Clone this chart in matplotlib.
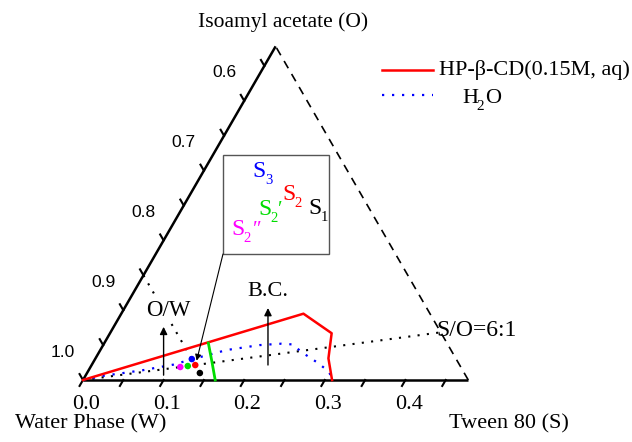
import matplotlib
matplotlib.use("Agg")
import matplotlib.pyplot as plt
from matplotlib.patches import Rectangle
import numpy as np

SERIF = 'Liberation Serif'
SANS = 'Liberation Sans'
R3 = np.sqrt(3) / 2

# side of the (partial) ternary triangle, in mass fraction
side = 0.478

# HP-beta-CD (0.15 M, aq) phase boundary: Tween 80 (S) and isoamyl acetate (O) fractions
hp_S = [0.0, 0.226, 0.275, 0.289, 0.309]
hp_O = [0.0, 0.095, 0.067, 0.031, 0.0]

# water phase boundary
h2o_S = [0.0, 0.022, 0.045, 0.067, 0.101, 0.121, 0.157, 0.194, 0.220, 0.234, 0.253, 0.280, 0.299, 0.310]
h2o_O = [0.0, 0.006, 0.010, 0.014, 0.022, 0.030, 0.043, 0.050, 0.052, 0.051, 0.039, 0.024, 0.012, 0.0]

# green boundary line
grn_S = [0.129, 0.147, 0.164]
grn_O = [0.053, 0.026, 0.0]

# formulation points S1, S2, S2', S2'', S3
pt_names = ['S1', 'S2', "S2'", "S2''", 'S3']
pt_S = [0.14, 0.1286, 0.12, 0.1114, 0.12]
pt_O = [0.01, 0.0214, 0.02, 0.0186, 0.03]
pt_colors = ['black', 'red', '#00dd00', '#ff00ff', 'blue']

# S/O = 6:1 dilution line and O/W line (W = 0.85)
so_ratio = 6.0
ow_S = [0.0, 0.14]
ow_O = [0.15, 0.01]

bottom_ticks = [0.0, 0.1, 0.2, 0.3, 0.4]
left_ticks = [1.0, 0.9, 0.8, 0.7, 0.6]


def tern(S, O):
    S = np.asarray(S, dtype=float)
    O = np.asarray(O, dtype=float)
    return S + O / 2, O * R3


def sub_text(x, y, main, sub, mark='', color='black', size=17, subsize=10.5,
             dx=9.0, dy=-5.0, mdx=14.5):
    # main letter with a lowered small subscript and an optional prime mark
    ax.text(x, y, main, ha='left', va='baseline', fontsize=size,
            family=SERIF, color=color)
    ax.annotate(sub, (x, y), xytext=(dx, dy), textcoords='offset points',
                ha='left', va='baseline', fontsize=subsize, family=SERIF,
                color=color)
    if mark:
        ax.annotate(mark, (x, y), xytext=(mdx, 0), textcoords='offset points',
                    ha='left', va='baseline', fontsize=size - 2,
                    family=SERIF, color=color)


fig = plt.figure(figsize=(6.32, 4.42), dpi=100)
ax = fig.add_axes([0, 0, 1, 1])
ax.set_xlim(-83 / 806, 549 / 806)
ax.set_ylim(-62 / 806, 380 / 806)
ax.axis('off')

# frame: solid W-S and W-O axes, dashed S-O edge
ax.plot([0, side], [0, 0], color='black', lw=1.8, solid_capstyle='butt')
ax.plot([0, side / 2], [0, side * R3], color='black', lw=1.8, solid_capstyle='butt')
ax.plot([side, side / 2], [0, side * R3], color='black', lw=1.2,
        linestyle=(0, (5, 4)))

# ticks
t = 0.0085
for v in np.arange(0, 0.451, 0.05):
    ax.plot([v, v - 0.5 * t], [0, -R3 * t], color='black', lw=1.5)
    x0, y0 = v / 2, v * R3
    ax.plot([x0, x0 - 0.5 * t], [y0, y0 + R3 * t], color='black', lw=1.5)

for v in bottom_ticks:
    ax.text(v + 0.004, -0.0298, f'{v:.1f}', ha='center', va='center',
            fontsize=16, family=SERIF)
for v in left_ticks:
    d = 1 - v
    ax.text(d / 2 - 0.0248, d * R3 + 0.0347, f'{v:.1f}', ha='center',
            va='center', fontsize=12.5, family=SANS)

ax.text(0.248, 0.444, 'Isoamyl acetate (O)', ha='center', va='center',
        fontsize=15.5, family=SERIF)
ax.text(0.009, -0.0545, 'Water Phase (W)', ha='center', va='center',
        fontsize=16, family=SERIF)
ax.text(0.5285, -0.0545, 'Tween 80 (S)', ha='center', va='center',
        fontsize=16, family=SERIF)

# S/O = 6:1 line up to the S-O edge
o_end = side / (so_ratio + 1)
sx, sy = tern([0, so_ratio * o_end], [0, o_end])
ax.plot(sx, sy, color='black', lw=1.5, linestyle=(0, (1, 3.5)))
ax.text(0.439, 0.062, 'S/O=6:1', ha='left', va='center', fontsize=17,
        family=SERIF)

# O/W line
x, y = tern(ow_S, ow_O)
ax.plot(x, y, color='black', lw=1.5, linestyle=(0, (1, 3.5)))

# phase boundaries
x, y = tern(h2o_S, h2o_O)
ax.plot(x, y, color='blue', lw=1.6, linestyle=(0, (1, 3.5)))
x, y = tern(hp_S, hp_O)
ax.plot(x, y, color='red', lw=1.8)
x, y = tern(grn_S, grn_O)
ax.plot(x, y, color='#00dd00', lw=2.0)

x, y = tern(pt_S, pt_O)
ax.scatter(x, y, s=22, c=pt_colors, zorder=5, linewidths=0)

# region arrows
arrow = dict(arrowstyle='-|>', color='black', lw=1.0, mutation_scale=11,
             shrinkA=0, shrinkB=0)
ax.annotate('', xy=(0.1, 0.066), xytext=(0.1, 0.006), arrowprops=arrow)
ax.text(0.1055, 0.0868, 'O/W', ha='center', va='center', fontsize=16.5,
        family=SERIF, bbox=dict(fc='white', ec='none', pad=0.5))
ax.annotate('', xy=(0.2295, 0.0893), xytext=(0.2295, 0.0186), arrowprops=arrow)
ax.text(0.2295, 0.110, 'B.C.', ha='center', va='center', fontsize=16,
        family=SERIF)

# zoom box with point labels
bx, by, bw, bh = 0.1737, 0.1563, 0.1315, 0.1229
ax.add_patch(Rectangle((bx, by), bw, bh, fill=False, ec='#555555', lw=1.0))
ax.annotate('', xy=(0.141, 0.024), xytext=(bx, by),
            arrowprops=dict(arrowstyle='-|>', color='black', lw=0.8,
                            mutation_scale=9, shrinkA=0, shrinkB=0))

sub_text(0.2106, 0.2515, 'S', '3', color='blue')
sub_text(0.2469, 0.2233, 'S', '2', color='red')
sub_text(0.2171, 0.2047, 'S', '2', '\u2032', color='#00dd00')
sub_text(0.2791, 0.2060, 'S', '1', color='black')
sub_text(0.1836, 0.1799, 'S', '2', '\u2033', color='#ff00ff', mdx=16)

# legend
ax.plot([0.371, 0.4342], [0.3846, 0.3846], color='red', lw=1.8)
ax.text(0.4417, 0.3846, 'HP-\u03b2-CD(0.15M, aq)', ha='left', va='center',
        fontsize=16, family=SERIF)
ax.plot([0.371, 0.4342], [0.3536, 0.3536], color='blue', lw=1.6,
        linestyle=(0, (1, 3.5)))
sub_text(0.4702, 0.3440, 'H', '2', size=16, subsize=11, dx=10.5, dy=-5.0)
ax.annotate('O', (0.4702, 0.3440), xytext=(17, 0), textcoords='offset points',
            ha='left', va='baseline', fontsize=16, family=SERIF)

fig.savefig('out.png', dpi=100)
